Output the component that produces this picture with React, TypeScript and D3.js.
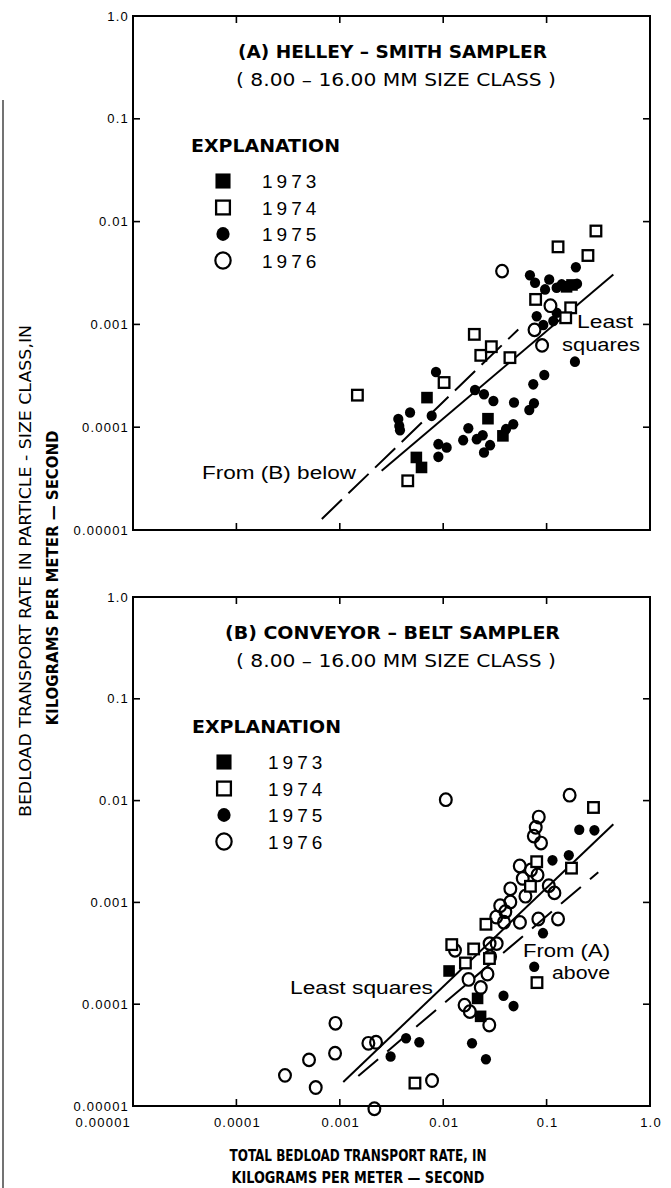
import React from 'react'
import * as d3 from 'd3'

// decade ticks shared by both panels
const tickValues = [0.00001, 0.0001, 0.001, 0.01, 0.1, 1]
const tickLabels = ['0.00001', '0.0001', '0.001', '0.01', '0.1', '1.0']
const years = ['1973', '1974', '1975', '1976']

// (A) Helley-Smith sampler, [total rate, size-class rate]
const a1973 = [[0.00697, 0.000194], [0.0271, 0.000121], [0.0378, 0.0000824], [0.0055, 0.0000508], [0.00617, 0.0000406], [0.156, 0.00232], [0.176, 0.00242]]
const a1974 = [[0.30, 0.0081], [0.129, 0.00568], [0.251, 0.00468], [0.0783, 0.00175], [0.171, 0.00145], [0.153, 0.00116], [0.0200, 0.0008], [0.0231, 0.0005], [0.0292, 0.000607], [0.0442, 0.000475], [0.0102, 0.000272], [0.00148, 0.000205], [0.00454, 0.0000301]]
const a1975 = [
  [0.192, 0.0036], [0.069, 0.00301], [0.0773, 0.00254], [0.106, 0.00273], [0.0966, 0.00219], [0.125, 0.00227], [0.14, 0.00245], [0.197, 0.00248],
  [0.0802, 0.0012], [0.0929, 0.000985], [0.116, 0.00108], [0.125, 0.0013], [0.188, 0.000434], [0.095, 0.000322], [0.0743, 0.000261],
  [0.0755, 0.000171], [0.068, 0.000147], [0.0484, 0.000174], [0.0476, 0.000107], [0.0405, 0.0000957], [0.0306, 0.00018], [0.0248, 0.000209],
  [0.0203, 0.00023], [0.0175, 0.0000978], [0.0156, 0.0000748], [0.0211, 0.0000765], [0.0241, 0.0000836], [0.0284, 0.0000669], [0.0248, 0.0000568],
  [0.00898, 0.0000684], [0.0108, 0.0000635], [0.00898, 0.0000515], [0.00774, 0.000129], [0.00478, 0.000139], [0.00368, 0.00012],
  [0.00376, 0.000103], [0.00382, 0.0000935], [0.00851, 0.000344],
]
const a1976 = [[0.0371, 0.0033], [0.109, 0.00152], [0.0764, 0.000885], [0.0904, 0.000625]]

// (B) conveyor-belt sampler
const b1973 = [[0.0114, 0.000212], [0.0215, 0.000114], [0.023, 0.000076]]
const b1974 = [[0.284, 0.00856], [0.0802, 0.00251], [0.174, 0.00217], [0.0698, 0.00144], [0.0259, 0.00061], [0.0121, 0.000385], [0.0197, 0.000349], [0.0164, 0.000254], [0.028, 0.000281], [0.0807, 0.000163], [0.00533, 0.0000168]]
const b1975 = [[0.207, 0.00517], [0.29, 0.0051], [0.114, 0.00259], [0.164, 0.0029], [0.0923, 0.000499], [0.0759, 0.000233], [0.0383, 0.000121], [0.0479, 0.0000958], [0.0031, 0.0000306], [0.00437, 0.0000463], [0.00587, 0.0000423], [0.019, 0.0000413], [0.0259, 0.0000288]]
const b1976 = [
  [0.0106, 0.0102], [0.167, 0.0113], [0.084, 0.00689], [0.0785, 0.00546], [0.0752, 0.00448], [0.0883, 0.00383], [0.055, 0.00228],
  [0.0706, 0.00208], [0.0817, 0.00186], [0.0588, 0.00172], [0.105, 0.00146], [0.119, 0.00124], [0.0446, 0.00136], [0.0624, 0.00115],
  [0.0446, 0.00101], [0.0356, 0.000927], [0.0399, 0.00081], [0.0326, 0.000718], [0.0387, 0.000639], [0.0552, 0.000636], [0.0832, 0.000687],
  [0.129, 0.000687], [0.0281, 0.000394], [0.0329, 0.000394], [0.0284, 0.000292], [0.013, 0.000338], [0.0268, 0.000198], [0.0176, 0.000175],
  [0.0231, 0.000146], [0.0161, 0.000098], [0.0181, 0.0000845], [0.0279, 0.0000625], [0.000908, 0.0000649], [0.0009, 0.000033],
  [0.000504, 0.0000284], [0.000295, 0.00002], [0.000585, 0.0000152], [0.00189, 0.0000413], [0.00224, 0.0000423], [0.00216, 0.0000094],
  [0.0078, 0.0000178],
]

// fitted lines (end points)
const aLeastSquares = [[0.00254, 0.0000377], [0.442, 0.00306]]
const aFromB = [[0.00067, 0.0000128], [0.0532, 0.000893]]
const bLeastSquares = [[0.00108, 0.0000172], [0.442, 0.00587]]
const bFromA = [[0.00151, 0.0000197], [0.316, 0.00198]]

const font = "'Liberation Sans Narrow', 'DejaVu Sans Condensed', 'Liberation Sans', sans-serif"
const plain = "'Liberation Sans', Arial, sans-serif"

const x = d3.scaleLog().domain([0.00001, 1]).range([133, 650])

const Marker = ({ kind, cx, cy, s = 1, openFill = 'white' }) => {
  if (kind === '1973') return <rect x={cx - 5.8 * s} y={cy - 5.8 * s} width={11.6 * s} height={11.6 * s} fill='black' />
  if (kind === '1974') return <rect x={cx - 5.3 * s} y={cy - 5.3 * s} width={10.6 * s} height={10.6 * s} fill='white' stroke='black' strokeWidth={2.3} />
  if (kind === '1975') return <ellipse cx={cx} cy={cy} rx={5.1 * s} ry={5.3 * s} fill='black' />
  return <ellipse cx={cx} cy={cy} rx={5.9 * s} ry={6.3 * s} fill={openFill} stroke='black' strokeWidth={2.2} />
}

const Panel = ({ top, bottom, title, titleW, series, solid, dashed, dash, openFill, legendX, textX, showX, labels }) => {
  const y = d3.scaleLog().domain([0.00001, 1]).range([bottom, top])
  const line = d3.line().x(d => x(d[0])).y(d => y(d[1]))
  const t = 7
  return (
    <g>
      <rect x={133} y={top} width={517} height={bottom - top} fill='none' stroke='black' strokeWidth={2} />
      {tickValues.map((v, i) => (
        <g key={i}>
          <line x1={133} x2={133 + t} y1={y(v)} y2={y(v)} stroke='black' strokeWidth={1.6} />
          <line x1={650} x2={650 - t} y1={y(v)} y2={y(v)} stroke='black' strokeWidth={1.6} />
          <line x1={x(v)} x2={x(v)} y1={top} y2={top + t} stroke='black' strokeWidth={1.6} />
          <line x1={x(v)} x2={x(v)} y1={bottom} y2={bottom - t} stroke='black' strokeWidth={1.6} />
          <text x={129} y={y(v) + 4.5} textAnchor='end' fontFamily={plain} fontSize={13} letterSpacing={1.2}>{tickLabels[i]}</text>
          {showX && (
            <text x={i === 0 ? 131 : x(v) + 1} y={bottom + 21} textAnchor={i === 0 ? 'end' : 'middle'} fontFamily={plain} fontSize={13} letterSpacing={1.2}>{tickLabels[i]}</text>
          )}
        </g>
      ))}
      <text x={titleW[0]} y={top + 42} fontFamily={font} fontWeight='bold' fontSize={17} textLength={titleW[1]} lengthAdjust='spacingAndGlyphs'>{title}</text>
      <text x={236} y={top + 70} fontFamily={font} fontSize={17} textLength={320} lengthAdjust='spacingAndGlyphs'>( 8.00 – 16.00 MM SIZE CLASS )</text>
      <text x={legendX - 32} y={top + 136} fontFamily={font} fontWeight='bold' fontSize={17} textLength={149} lengthAdjust='spacingAndGlyphs'>EXPLANATION</text>
      {years.map((yr, i) => (
        <g key={yr}>
          <Marker kind={yr} cx={legendX} cy={top + 165 + i * 26.5} s={1.3} />
          <text x={textX} y={top + 172 + i * 26.5} fontFamily={plain} fontSize={19} letterSpacing={4}>{yr}</text>
        </g>
      ))}
      <path d={line(dashed)} fill='none' stroke='black' strokeWidth={2} strokeDasharray={dash} />
      <path d={line(solid)} fill='none' stroke='black' strokeWidth={2} />
      {series[2].map((d, i) => <Marker key={'c' + i} kind='1975' cx={x(d[0])} cy={y(d[1])} />)}
      {series[0].map((d, i) => <Marker key={'a' + i} kind='1973' cx={x(d[0])} cy={y(d[1])} />)}
      {series[3].map((d, i) => <Marker key={'d' + i} kind='1976' cx={x(d[0])} cy={y(d[1])} openFill={openFill} />)}
      {series[1].map((d, i) => <Marker key={'b' + i} kind='1974' cx={x(d[0])} cy={y(d[1])} />)}
      {labels.map((l, i) => (
        <text key={i} x={l[0]} y={l[1]} fontFamily={plain} fontSize={17.5} textLength={l[3]} lengthAdjust='spacingAndGlyphs'>{l[2]}</text>
      ))}
    </g>
  )
}

export default function App() {
  return (
    <div style={{ position: 'absolute', left: 0, top: 0, background: 'white' }}>
      <svg width={671} height={1188} style={{ display: 'block' }}>
        <rect width={671} height={1188} fill='white' />
        <line x1={3} x2={3} y1={100} y2={1188} stroke='#444' strokeWidth={1.5} />
        <Panel top={16} bottom={530} title='(A) HELLEY – SMITH SAMPLER' titleW={[238, 309]}
          series={[a1973, a1974, a1975, a1976]} solid={aLeastSquares} dashed={aFromB} dash='28 9'
          openFill='white' legendX={223} textX={262} showX={false}
          labels={[[577, 328, 'Least', 56], [562, 351, 'squares', 78], [202, 479, 'From (B) below', 154]]} />
        <Panel top={597} bottom={1106} title='(B)  CONVEYOR – BELT SAMPLER' titleW={[225, 335]}
          series={[b1973, b1974, b1975, b1976]} solid={bLeastSquares} dashed={bFromA} dash='26 12'
          openFill='none' legendX={224} textX={268} showX={true}
          labels={[[290, 994, 'Least squares', 143], [523, 957, 'From (A)', 87], [552, 979, 'above', 58]]} />
        <text x={358} y={1161} textAnchor='middle' fontFamily={font} fontWeight='bold' fontSize={16} textLength={257} lengthAdjust='spacingAndGlyphs'>TOTAL BEDLOAD TRANSPORT RATE, IN</text>
        <text x={358} y={1183} textAnchor='middle' fontFamily={font} fontWeight='bold' fontSize={16} textLength={253} lengthAdjust='spacingAndGlyphs'>KILOGRAMS PER METER — SECOND</text>
        <text transform='translate(31,571) rotate(-90)' textAnchor='middle' fontFamily={font} fontSize={16} textLength={492} lengthAdjust='spacingAndGlyphs'>BEDLOAD TRANSPORT RATE IN PARTICLE - SIZE CLASS,IN</text>
        <text transform='translate(58,578) rotate(-90)' textAnchor='middle' fontFamily={font} fontWeight='bold' fontSize={16} textLength={295} lengthAdjust='spacingAndGlyphs'>KILOGRAMS PER METER — SECOND</text>
      </svg>
    </div>
  )
}
